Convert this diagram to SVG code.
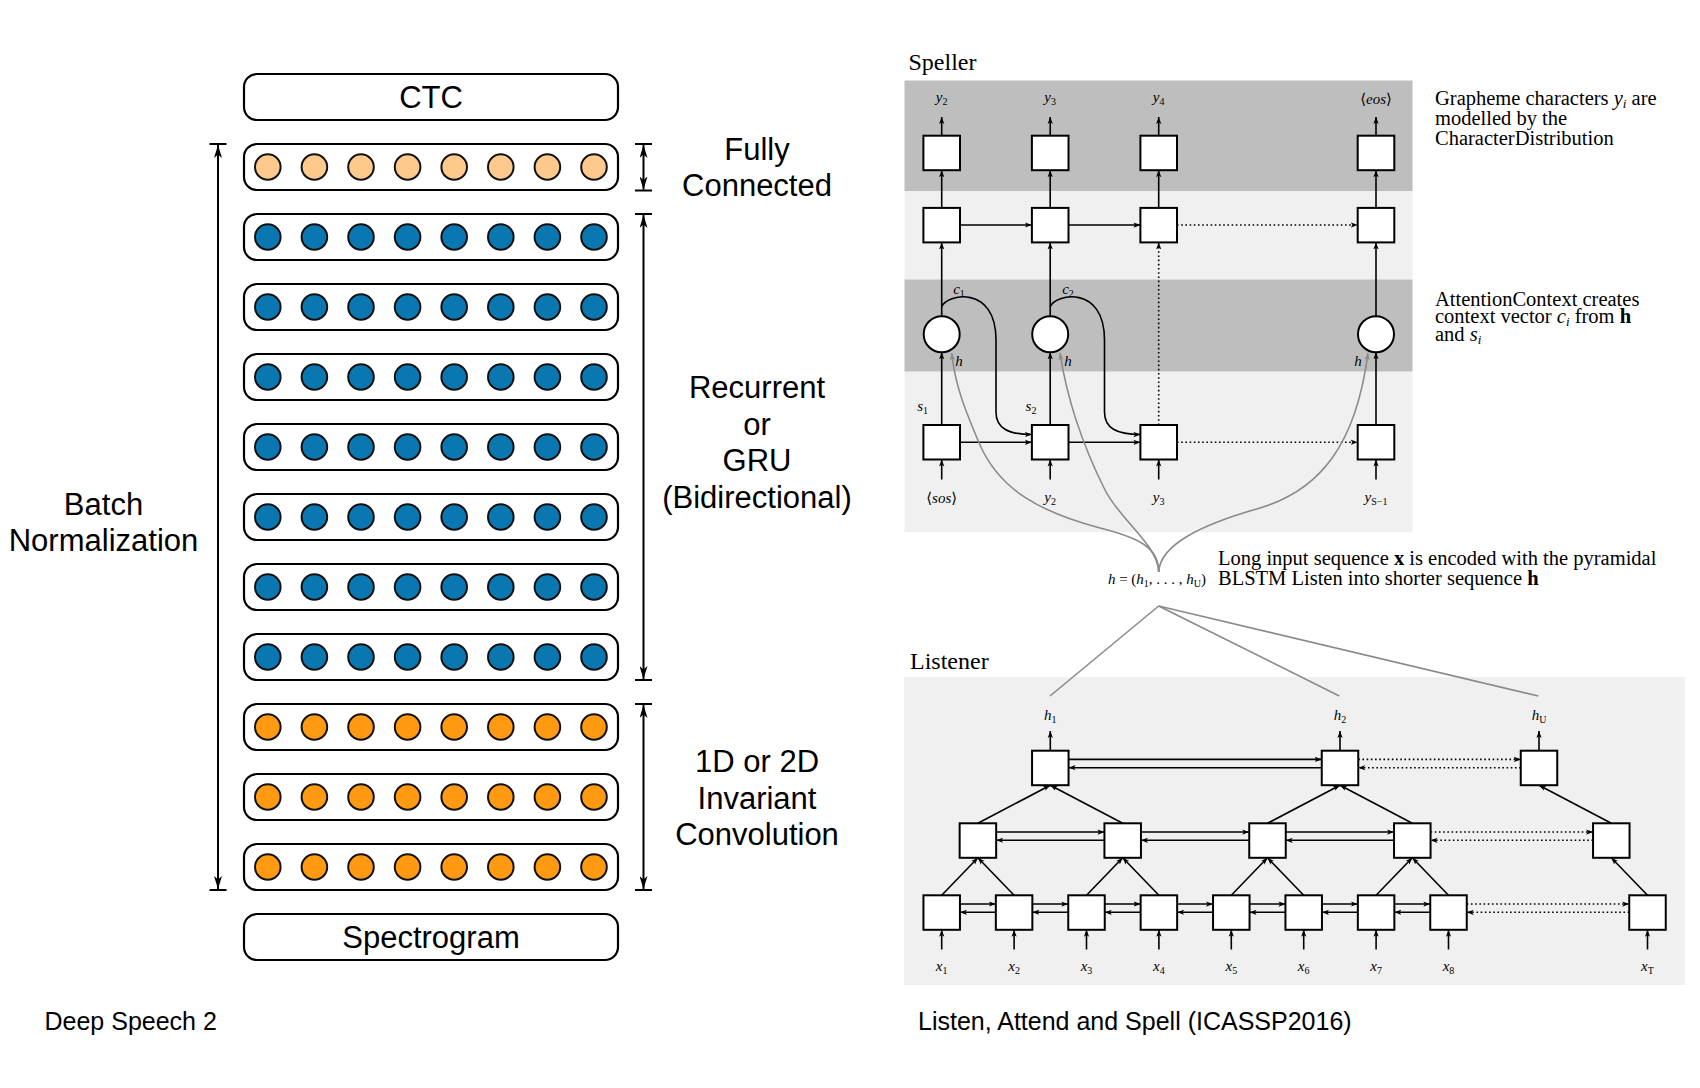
<svg xmlns="http://www.w3.org/2000/svg" xmlns:xlink="http://www.w3.org/1999/xlink" width="1700" height="1088" viewBox="0 0 1700 1088">
<style>
.hv{font-family:"Liberation Sans",Arial,sans-serif;font-size:31px;text-anchor:middle;fill:#000}
.cap{font-family:"Liberation Sans",Arial,sans-serif;font-size:25px;fill:#000}
.rowbox{fill:#fff;stroke:#000;stroke-width:2.2}
.dots circle{stroke:#111;stroke-width:2}
.fc{fill:#FDC98C}
.bl{fill:#0B77B1}
.or{fill:#FF9A12}
.big{stroke:#000;stroke-width:2;fill:none}
.ln{stroke:#000;stroke-width:1.6;fill:none}
.dt{stroke-dasharray:1.6 2.6}
.bx{fill:#fff;stroke:#000;stroke-width:2}
.gr{stroke:#8a8a8a;stroke-width:1.6;fill:none}
.m{font-family:"Liberation Serif","DejaVu Serif",serif;font-style:italic;font-size:15px;text-anchor:middle;fill:#000}
.sb{font-size:10px;font-style:normal}
.up{font-style:normal}
.an{font-family:"Liberation Serif","DejaVu Serif",serif;font-size:20.5px;fill:#000}
.hd{font-family:"Liberation Serif","DejaVu Serif",serif;font-size:24px;fill:#000}
</style>
<defs>
<marker id="bigA" viewBox="0 0 13 8" refX="13" refY="4" markerWidth="13" markerHeight="8" markerUnits="userSpaceOnUse" orient="auto-start-reverse">
<path d="M0,0 L13,4 L0,8 L3.5,4 z" fill="#000"/>
</marker>
<marker id="ah" viewBox="0 0 8 6" refX="8" refY="3" markerWidth="7" markerHeight="6" markerUnits="userSpaceOnUse" orient="auto">
<path d="M0,0 L8,3 L0,6 L2,3 z" fill="#000"/>
</marker>
<marker id="ahg" viewBox="0 0 8 6" refX="8" refY="3" markerWidth="7" markerHeight="6" markerUnits="userSpaceOnUse" orient="auto">
<path d="M0,0 L8,3 L0,6 L2,3 z" fill="#8a8a8a"/>
</marker>
<g id="dots" class="dots">
<circle cx="267.8" cy="0" r="12.8"/><circle cx="314.4" cy="0" r="12.8"/><circle cx="361" cy="0" r="12.8"/><circle cx="407.6" cy="0" r="12.8"/><circle cx="454.2" cy="0" r="12.8"/><circle cx="500.8" cy="0" r="12.8"/><circle cx="547.4" cy="0" r="12.8"/><circle cx="594" cy="0" r="12.8"/>
</g>
</defs>
<rect width="1700" height="1088" fill="#fff"/>

<!-- ===== Deep Speech 2 ===== -->
<g id="ctc"><rect class="rowbox" x="244" y="74" width="374" height="46" rx="13"/><text class="hv" x="431" y="108" font-size="30">CTC</text></g>
<g id="fc-row"><rect class="rowbox" x="244" y="144" width="374" height="46" rx="13"/><use href="#dots" y="167" class="fc"/></g>
<g id="rnn-1"><rect class="rowbox" x="244" y="214" width="374" height="46" rx="13"/><use href="#dots" y="237" class="bl"/></g>
<g id="rnn-2"><rect class="rowbox" x="244" y="284" width="374" height="46" rx="13"/><use href="#dots" y="307" class="bl"/></g>
<g id="rnn-3"><rect class="rowbox" x="244" y="354" width="374" height="46" rx="13"/><use href="#dots" y="377" class="bl"/></g>
<g id="rnn-4"><rect class="rowbox" x="244" y="424" width="374" height="46" rx="13"/><use href="#dots" y="447" class="bl"/></g>
<g id="rnn-5"><rect class="rowbox" x="244" y="494" width="374" height="46" rx="13"/><use href="#dots" y="517" class="bl"/></g>
<g id="rnn-6"><rect class="rowbox" x="244" y="564" width="374" height="46" rx="13"/><use href="#dots" y="587" class="bl"/></g>
<g id="rnn-7"><rect class="rowbox" x="244" y="634" width="374" height="46" rx="13"/><use href="#dots" y="657" class="bl"/></g>
<g id="conv-1"><rect class="rowbox" x="244" y="704" width="374" height="46" rx="13"/><use href="#dots" y="727" class="or"/></g>
<g id="conv-2"><rect class="rowbox" x="244" y="774" width="374" height="46" rx="13"/><use href="#dots" y="797" class="or"/></g>
<g id="conv-3"><rect class="rowbox" x="244" y="844" width="374" height="46" rx="13"/><use href="#dots" y="867" class="or"/></g>
<g id="spectrogram"><rect class="rowbox" x="244" y="914" width="374" height="46" rx="13"/><text class="hv" x="431" y="948" font-size="30">Spectrogram</text></g>

<g id="ds2-connectors">
<line class="big" x1="218" y1="145" x2="218" y2="889" marker-start="url(#bigA)" marker-end="url(#bigA)"/>
<line class="big" x1="209.5" y1="144" x2="226.5" y2="144"/><line class="big" x1="209.5" y1="890" x2="226.5" y2="890"/>
<line class="big" x1="643.5" y1="145" x2="643.5" y2="189.5" marker-start="url(#bigA)" marker-end="url(#bigA)"/>
<line class="big" x1="635" y1="144" x2="652" y2="144"/><line class="big" x1="635" y1="190.5" x2="652" y2="190.5"/>
<line class="big" x1="643.5" y1="215" x2="643.5" y2="679" marker-start="url(#bigA)" marker-end="url(#bigA)"/>
<line class="big" x1="635" y1="214" x2="652" y2="214"/><line class="big" x1="635" y1="680" x2="652" y2="680"/>
<line class="big" x1="643.5" y1="705" x2="643.5" y2="889" marker-start="url(#bigA)" marker-end="url(#bigA)"/>
<line class="big" x1="635" y1="704" x2="652" y2="704"/><line class="big" x1="635" y1="890" x2="652" y2="890"/>
</g>
<g id="ds2-labels">
<text class="hv" x="757" y="159.5">Fully</text><text class="hv" x="757" y="195.5">Connected</text>
<text class="hv" x="757" y="398">Recurrent</text><text class="hv" x="757" y="434.5">or</text><text class="hv" x="757" y="471">GRU</text><text class="hv" x="757" y="507.5">(Bidirectional)</text>
<text class="hv" x="757" y="772">1D or 2D</text><text class="hv" x="757" y="808.5">Invariant</text><text class="hv" x="757" y="845">Convolution</text>
<text class="hv" x="103.5" y="515">Batch</text><text class="hv" x="103.5" y="551">Normalization</text>
<text class="cap" x="44.5" y="1030">Deep Speech 2</text>
<text class="cap" x="918" y="1030">Listen, Attend and Spell (ICASSP2016)</text>
</g>

<!-- ===== LAS backgrounds ===== -->
<g id="speller-bg">
<rect x="904.5" y="80.5" width="508" height="110.5" fill="#BEBEBE"/>
<rect x="904.5" y="191" width="508" height="88.5" fill="#F0F0F0"/>
<rect x="904.5" y="279.5" width="508" height="92.2" fill="#BEBEBE"/>
<rect x="904.5" y="371.7" width="508" height="160.6" fill="#F0F0F0"/>
<text class="hd" x="908.5" y="69.5">Speller</text>
</g>
<g id="listener-bg">
<rect x="904" y="677" width="781" height="308" fill="#F0F0F0"/>
<text class="hd" x="910" y="669">Listener</text>
</g>

<g id="speller-connectors">
<line class="ln" x1="941.7" y1="135.7" x2="941.7" y2="117" marker-end="url(#ah)"/>
<line class="ln" x1="1050.2" y1="135.7" x2="1050.2" y2="117" marker-end="url(#ah)"/>
<line class="ln" x1="1158.7" y1="135.7" x2="1158.7" y2="117" marker-end="url(#ah)"/>
<line class="ln" x1="1376" y1="135.7" x2="1376" y2="117" marker-end="url(#ah)"/>
<line class="ln" x1="941.7" y1="207.9" x2="941.7" y2="170.2" marker-end="url(#ah)"/>
<line class="ln" x1="1050.2" y1="207.9" x2="1050.2" y2="170.2" marker-end="url(#ah)"/>
<line class="ln" x1="1158.7" y1="207.9" x2="1158.7" y2="170.2" marker-end="url(#ah)"/>
<line class="ln" x1="1376" y1="207.9" x2="1376" y2="170.2" marker-end="url(#ah)"/>
<line class="ln" x1="941.7" y1="316.3" x2="941.7" y2="242.4" marker-end="url(#ah)"/>
<line class="ln" x1="1050.2" y1="316.3" x2="1050.2" y2="242.4" marker-end="url(#ah)"/>
<line class="ln" x1="1376" y1="316.3" x2="1376" y2="242.4" marker-end="url(#ah)"/>
<line class="ln dt" x1="1158.7" y1="425" x2="1158.7" y2="242.4" marker-end="url(#ah)"/>
<line class="ln" x1="941.7" y1="425" x2="941.7" y2="352.3" marker-end="url(#ah)"/>
<line class="ln" x1="1050.2" y1="425" x2="1050.2" y2="352.3" marker-end="url(#ah)"/>
<line class="ln" x1="1376" y1="425" x2="1376" y2="352.3" marker-end="url(#ah)"/>
<line class="ln" x1="941.7" y1="479.5" x2="941.7" y2="459.5" marker-end="url(#ah)"/>
<line class="ln" x1="1050.2" y1="479.5" x2="1050.2" y2="459.5" marker-end="url(#ah)"/>
<line class="ln" x1="1158.7" y1="479.5" x2="1158.7" y2="459.5" marker-end="url(#ah)"/>
<line class="ln" x1="1376" y1="479.5" x2="1376" y2="459.5" marker-end="url(#ah)"/>
<line class="ln" x1="960" y1="225" x2="1031.9" y2="225" marker-end="url(#ah)"/>
<line class="ln" x1="1068.5" y1="225" x2="1140.4" y2="225" marker-end="url(#ah)"/>
<line class="ln dt" x1="1177" y1="225" x2="1357.7" y2="225" marker-end="url(#ah)"/>
<line class="ln" x1="960" y1="442.3" x2="1031.9" y2="442.3" marker-end="url(#ah)"/>
<line class="ln" x1="1068.5" y1="442.3" x2="1140.4" y2="442.3" marker-end="url(#ah)"/>
<line class="ln dt" x1="1177" y1="442.3" x2="1357.7" y2="442.3" marker-end="url(#ah)"/>
<path class="ln" d="M941.7,307 C946,294 996,284 996,340 L996,412 C996,428 1008,434.5 1031.9,434.5" marker-end="url(#ah)"/>
<path class="ln" d="M1050.2,307 C1054.5,294 1104.5,284 1104.5,340 L1104.5,412 C1104.5,428 1116.5,434.5 1140.4,434.5" marker-end="url(#ah)"/>
<path class="gr" d="M1158.7,572 C1158.7,548 1140,538 1100,528 C1040,512 1000,490 980,445 C965,410 955,385 951.7,353" marker-end="url(#ahg)"/>
<path class="gr" d="M1158.7,572 C1158,545 1120,520 1105,490 C1085,450 1068,405 1060,353" marker-end="url(#ahg)"/>
<path class="gr" d="M1158.7,572 C1160,545 1200,525 1260,508 C1320,490 1356,445 1368,353" marker-end="url(#ahg)"/>
<line class="gr" x1="1158.7" y1="606" x2="1050" y2="696"/>
<line class="gr" x1="1158.7" y1="606" x2="1339.3" y2="696"/>
<line class="gr" x1="1158.7" y1="606" x2="1538.3" y2="696"/>
</g>
<g id="speller-nodes">
<rect class="bx" x="923.4" y="135.7" width="36.6" height="34.5"/>
<rect class="bx" x="1031.9" y="135.7" width="36.6" height="34.5"/>
<rect class="bx" x="1140.4" y="135.7" width="36.6" height="34.5"/>
<rect class="bx" x="1357.7" y="135.7" width="36.6" height="34.5"/>
<rect class="bx" x="923.4" y="207.9" width="36.6" height="34.5"/>
<rect class="bx" x="1031.9" y="207.9" width="36.6" height="34.5"/>
<rect class="bx" x="1140.4" y="207.9" width="36.6" height="34.5"/>
<rect class="bx" x="1357.7" y="207.9" width="36.6" height="34.5"/>
<circle class="bx" cx="941.7" cy="334.3" r="18"/>
<circle class="bx" cx="1050.2" cy="334.3" r="18"/>
<circle class="bx" cx="1376" cy="334.3" r="18"/>
<rect class="bx" x="923.4" y="425" width="36.6" height="34.5"/>
<rect class="bx" x="1031.9" y="425" width="36.6" height="34.5"/>
<rect class="bx" x="1140.4" y="425" width="36.6" height="34.5"/>
<rect class="bx" x="1357.7" y="425" width="36.6" height="34.5"/>
</g>
<g id="speller-labels">
<text class="m" x="941.7" y="102">y<tspan class="sb" dy="3">2</tspan></text>
<text class="m" x="1050.2" y="102">y<tspan class="sb" dy="3">3</tspan></text>
<text class="m" x="1158.7" y="102">y<tspan class="sb" dy="3">4</tspan></text>
<text class="m" x="1376" y="104"><tspan class="up">⟨</tspan>eos<tspan class="up">⟩</tspan></text>
<text class="m" x="959" y="294">c<tspan class="sb" dy="3">1</tspan></text>
<text class="m" x="1068" y="294">c<tspan class="sb" dy="3">2</tspan></text>
<text class="m" x="959" y="366">h</text>
<text class="m" x="1068" y="366">h</text>
<text class="m" x="1358" y="366">h</text>
<text class="m" x="922.7" y="411">s<tspan class="sb" dy="3">1</tspan></text>
<text class="m" x="1031" y="411">s<tspan class="sb" dy="3">2</tspan></text>
<text class="m" x="941.7" y="503"><tspan class="up">⟨</tspan>sos<tspan class="up">⟩</tspan></text>
<text class="m" x="1050.2" y="502">y<tspan class="sb" dy="3">2</tspan></text>
<text class="m" x="1158.7" y="502">y<tspan class="sb" dy="3">3</tspan></text>
<text class="m" x="1376" y="502">y<tspan class="sb" dy="3" font-style="italic">S</tspan><tspan class="sb">−1</tspan></text>
<text class="m" x="1157" y="584" font-size="14">h <tspan class="up">= (</tspan>h<tspan class="sb" dy="3">1</tspan><tspan dy="-3" class="up">, . . . , </tspan>h<tspan class="sb" dy="3" font-style="italic">U</tspan><tspan dy="-3" class="up">)</tspan></text>
</g>
<g id="annotations">
<text class="an" x="1435" y="105">Grapheme characters <tspan font-style="italic">y</tspan><tspan font-size="13" dy="3" font-style="italic">i</tspan><tspan dy="-3"> are</tspan></text>
<text class="an" x="1435" y="125">modelled by the</text>
<text class="an" x="1435" y="145">CharacterDistribution</text>
<text class="an" x="1435" y="305.5">AttentionContext creates</text>
<text class="an" x="1435" y="323">context vector <tspan font-style="italic">c</tspan><tspan font-size="13" dy="3" font-style="italic">i</tspan><tspan dy="-3"> from </tspan><tspan font-weight="bold">h</tspan></text>
<text class="an" x="1435" y="341">and <tspan font-style="italic">s</tspan><tspan font-size="13" dy="3" font-style="italic">i</tspan></text>
<text class="an" x="1218" y="565" font-size="21.4">Long input sequence <tspan font-weight="bold">x</tspan> is encoded with the pyramidal</text>
<text class="an" x="1218" y="585" font-size="21.4">BLSTM Listen into shorter sequence <tspan font-weight="bold">h</tspan></text>
</g>

<g id="listener-connectors">
<line class="ln" x1="941.7" y1="949.5" x2="941.7" y2="929.8" marker-end="url(#ah)"/>
<line class="ln" x1="1014.1" y1="949.5" x2="1014.1" y2="929.8" marker-end="url(#ah)"/>
<line class="ln" x1="1086.5" y1="949.5" x2="1086.5" y2="929.8" marker-end="url(#ah)"/>
<line class="ln" x1="1158.9" y1="949.5" x2="1158.9" y2="929.8" marker-end="url(#ah)"/>
<line class="ln" x1="1231.3" y1="949.5" x2="1231.3" y2="929.8" marker-end="url(#ah)"/>
<line class="ln" x1="1303.7" y1="949.5" x2="1303.7" y2="929.8" marker-end="url(#ah)"/>
<line class="ln" x1="1376.1" y1="949.5" x2="1376.1" y2="929.8" marker-end="url(#ah)"/>
<line class="ln" x1="1448.5" y1="949.5" x2="1448.5" y2="929.8" marker-end="url(#ah)"/>
<line class="ln" x1="1647.5" y1="949.5" x2="1647.5" y2="929.8" marker-end="url(#ah)"/>
<line class="ln" x1="959.95" y1="904" x2="995.85" y2="904" marker-end="url(#ah)"/><line class="ln" x1="995.85" y1="912.3" x2="959.95" y2="912.3" marker-end="url(#ah)"/>
<line class="ln" x1="1032.35" y1="904" x2="1068.25" y2="904" marker-end="url(#ah)"/><line class="ln" x1="1068.25" y1="912.3" x2="1032.35" y2="912.3" marker-end="url(#ah)"/>
<line class="ln" x1="1104.75" y1="904" x2="1140.65" y2="904" marker-end="url(#ah)"/><line class="ln" x1="1140.65" y1="912.3" x2="1104.75" y2="912.3" marker-end="url(#ah)"/>
<line class="ln" x1="1177.15" y1="904" x2="1213.05" y2="904" marker-end="url(#ah)"/><line class="ln" x1="1213.05" y1="912.3" x2="1177.15" y2="912.3" marker-end="url(#ah)"/>
<line class="ln" x1="1249.55" y1="904" x2="1285.45" y2="904" marker-end="url(#ah)"/><line class="ln" x1="1285.45" y1="912.3" x2="1249.55" y2="912.3" marker-end="url(#ah)"/>
<line class="ln" x1="1321.95" y1="904" x2="1357.85" y2="904" marker-end="url(#ah)"/><line class="ln" x1="1357.85" y1="912.3" x2="1321.95" y2="912.3" marker-end="url(#ah)"/>
<line class="ln" x1="1394.35" y1="904" x2="1430.25" y2="904" marker-end="url(#ah)"/><line class="ln" x1="1430.25" y1="912.3" x2="1394.35" y2="912.3" marker-end="url(#ah)"/>
<line class="ln dt" x1="1466.75" y1="904" x2="1629.25" y2="904" marker-end="url(#ah)"/><line class="ln dt" x1="1629.25" y1="912.3" x2="1466.75" y2="912.3" marker-end="url(#ah)"/>
<line class="ln" x1="941.7" y1="895.3" x2="977.9" y2="857.8" marker-end="url(#ah)"/>
<line class="ln" x1="1014.1" y1="895.3" x2="977.9" y2="857.8" marker-end="url(#ah)"/>
<line class="ln" x1="1086.5" y1="895.3" x2="1122.7" y2="857.8" marker-end="url(#ah)"/>
<line class="ln" x1="1158.9" y1="895.3" x2="1122.7" y2="857.8" marker-end="url(#ah)"/>
<line class="ln" x1="1231.3" y1="895.3" x2="1267.5" y2="857.8" marker-end="url(#ah)"/>
<line class="ln" x1="1303.7" y1="895.3" x2="1267.5" y2="857.8" marker-end="url(#ah)"/>
<line class="ln" x1="1376.1" y1="895.3" x2="1412.3" y2="857.8" marker-end="url(#ah)"/>
<line class="ln" x1="1448.5" y1="895.3" x2="1412.3" y2="857.8" marker-end="url(#ah)"/>
<line class="ln" x1="1647.5" y1="895.3" x2="1611.3" y2="857.8" marker-end="url(#ah)"/>
<line class="ln" x1="996.15" y1="832" x2="1104.45" y2="832" marker-end="url(#ah)"/><line class="ln" x1="1104.45" y1="840.3" x2="996.15" y2="840.3" marker-end="url(#ah)"/>
<line class="ln" x1="1140.95" y1="832" x2="1249.25" y2="832" marker-end="url(#ah)"/><line class="ln" x1="1249.25" y1="840.3" x2="1140.95" y2="840.3" marker-end="url(#ah)"/>
<line class="ln" x1="1285.75" y1="832" x2="1394.05" y2="832" marker-end="url(#ah)"/><line class="ln" x1="1394.05" y1="840.3" x2="1285.75" y2="840.3" marker-end="url(#ah)"/>
<line class="ln dt" x1="1430.55" y1="832" x2="1593.05" y2="832" marker-end="url(#ah)"/><line class="ln dt" x1="1593.05" y1="840.3" x2="1430.55" y2="840.3" marker-end="url(#ah)"/>
<line class="ln" x1="977.9" y1="823.3" x2="1050.3" y2="785.2" marker-end="url(#ah)"/>
<line class="ln" x1="1122.7" y1="823.3" x2="1050.3" y2="785.2" marker-end="url(#ah)"/>
<line class="ln" x1="1267.5" y1="823.3" x2="1340" y2="785.2" marker-end="url(#ah)"/>
<line class="ln" x1="1412.3" y1="823.3" x2="1340" y2="785.2" marker-end="url(#ah)"/>
<line class="ln" x1="1611.3" y1="823.3" x2="1539" y2="785.2" marker-end="url(#ah)"/>
<line class="ln" x1="1068.55" y1="759.4" x2="1321.75" y2="759.4" marker-end="url(#ah)"/><line class="ln" x1="1321.75" y1="767.7" x2="1068.55" y2="767.7" marker-end="url(#ah)"/>
<line class="ln dt" x1="1358.25" y1="759.4" x2="1520.75" y2="759.4" marker-end="url(#ah)"/><line class="ln dt" x1="1520.75" y1="767.7" x2="1358.25" y2="767.7" marker-end="url(#ah)"/>
<line class="ln" x1="1050.3" y1="750.7" x2="1050.3" y2="731" marker-end="url(#ah)"/>
<line class="ln" x1="1340" y1="750.7" x2="1340" y2="731" marker-end="url(#ah)"/>
<line class="ln" x1="1539" y1="750.7" x2="1539" y2="731" marker-end="url(#ah)"/>
</g>
<g id="listener-nodes">
<rect class="bx" x="923.45" y="895.3" width="36.5" height="34.5"/>
<rect class="bx" x="995.85" y="895.3" width="36.5" height="34.5"/>
<rect class="bx" x="1068.25" y="895.3" width="36.5" height="34.5"/>
<rect class="bx" x="1140.65" y="895.3" width="36.5" height="34.5"/>
<rect class="bx" x="1213.05" y="895.3" width="36.5" height="34.5"/>
<rect class="bx" x="1285.45" y="895.3" width="36.5" height="34.5"/>
<rect class="bx" x="1357.85" y="895.3" width="36.5" height="34.5"/>
<rect class="bx" x="1430.25" y="895.3" width="36.5" height="34.5"/>
<rect class="bx" x="1629.25" y="895.3" width="36.5" height="34.5"/>
<rect class="bx" x="959.65" y="823.3" width="36.5" height="34.5"/>
<rect class="bx" x="1104.45" y="823.3" width="36.5" height="34.5"/>
<rect class="bx" x="1249.25" y="823.3" width="36.5" height="34.5"/>
<rect class="bx" x="1394.05" y="823.3" width="36.5" height="34.5"/>
<rect class="bx" x="1593.05" y="823.3" width="36.5" height="34.5"/>
<rect class="bx" x="1032.05" y="750.7" width="36.5" height="34.5"/>
<rect class="bx" x="1321.75" y="750.7" width="36.5" height="34.5"/>
<rect class="bx" x="1520.75" y="750.7" width="36.5" height="34.5"/>
</g>
<g id="listener-labels">
<text class="m" x="1050.3" y="720">h<tspan class="sb" dy="3">1</tspan></text>
<text class="m" x="1340" y="720">h<tspan class="sb" dy="3">2</tspan></text>
<text class="m" x="1539" y="720">h<tspan class="sb" dy="3" font-style="italic">U</tspan></text>
<text class="m" x="941.7" y="971">x<tspan class="sb" dy="3">1</tspan></text>
<text class="m" x="1014.1" y="971">x<tspan class="sb" dy="3">2</tspan></text>
<text class="m" x="1086.5" y="971">x<tspan class="sb" dy="3">3</tspan></text>
<text class="m" x="1158.9" y="971">x<tspan class="sb" dy="3">4</tspan></text>
<text class="m" x="1231.3" y="971">x<tspan class="sb" dy="3">5</tspan></text>
<text class="m" x="1303.7" y="971">x<tspan class="sb" dy="3">6</tspan></text>
<text class="m" x="1376.1" y="971">x<tspan class="sb" dy="3">7</tspan></text>
<text class="m" x="1448.5" y="971">x<tspan class="sb" dy="3">8</tspan></text>
<text class="m" x="1647.5" y="971">x<tspan class="sb" dy="3" font-style="italic">T</tspan></text>
</g>
</svg>
